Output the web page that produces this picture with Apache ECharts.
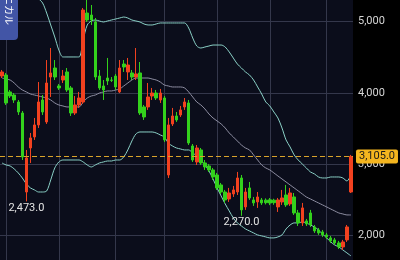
<!DOCTYPE html>
<html><head><meta charset="utf-8">
<script src="https://cdn.jsdelivr.net/npm/echarts@6/dist/echarts.min.js"></script>
<style>html,body{margin:0;padding:0;background:#000;}#c{width:400px;height:260px;}</style>
</head><body><div id="c"></div>
<script>
const opens = [4236,4250,4012,3969,3871,3716,2605,3224,3379,3548,
3899,3590,4222,4349,4096,4180,4293,4068,3716,3829,
3871,5122,5094,4996,4236,4096,4208,4180,4236,4012,
4405,4293,4279,4222,4279,3801,3801,3955,3997,3899,
3927,2844,3562,3674,3688,3801,3857,3252,3027,3196,
3013,2971,2915,2844,2704,2605,2507,2577,2605,2802,
2395,2662,2493,2465,2493,2490,2495,2490,2395,2465,
2563,2437,2535,2310,2170,2198,2310,2113,2071,2043,
2001,1959,1931,1888,1832,1931,2605];
const closes = [4293,3857,3955,3899,3730,3098,3084,3365,3548,3871,
3730,4138,4279,4222,4068,4236,4040,3716,3829,3927,
5164,5024,5024,4222,4068,4040,4166,4175,4082,4349,
4363,4391,4222,4265,3716,3660,3941,3997,3927,3997,
3337,3548,3674,3618,3759,3871,3294,3055,3224,3013,
2957,2915,2816,2662,2605,2493,2591,2634,2802,2353,
2605,2521,2451,2535,2451,2455,2450,2455,2493,2521,
2423,2591,2310,2170,2381,2156,2141,2057,2029,2001,
1973,1917,1888,1832,1902,2113,3105];
const lows = [4208,3829,3927,3857,3688,3055,2473,3013,3337,3505,
3688,3562,3941,4180,4040,4138,4012,3674,3688,3787,
3843,4996,4954,4180,4040,3899,4110,4152,4040,3997,
4293,4180,4180,4180,3688,3618,3759,3899,3899,3857,
3308,2802,3533,3590,3660,3759,3266,3027,2985,2985,
2915,2887,2774,2634,2577,2451,2465,2535,2563,2270,
2353,2493,2409,2381,2423,2430,2420,2425,2324,2423,
2395,2409,2282,2127,2127,2127,2113,2029,2001,1973,
1945,1888,1860,1804,1790,1902,2591];
const highs = [4321,4279,4040,3997,3899,3744,3196,3435,3646,4152,
3969,4461,4630,4461,4124,4321,4349,4096,3955,4012,
5193,5330,5235,5052,4321,4180,4490,4222,4265,4461,
4461,4490,4321,4630,4433,3829,4138,4068,4040,4054,
3955,3646,3787,3730,3815,3927,3899,3280,3266,3224,
3055,2999,2943,2873,2732,2634,2662,2690,2887,2844,
2662,2746,2535,2605,2521,2515,2520,2510,2521,2634,
2704,2662,2591,2353,2451,2226,2353,2141,2099,2071,
2029,1987,1959,1917,1931,2141,3126];
const upperBand = [5420,5400,5380,5370,5360,5350,5345,5340,5335,5320,
5263,5122,4954,4785,4602,4504,4504,4504,4504,4504,
4743,4954,5010,5024,5010,4996,5010,5024,5038,5052,
5066,5052,5024,5010,4996,4968,4954,4954,4968,4982,
4982,4982,4982,4982,4982,4982,4911,4771,4658,4630,
4644,4658,4672,4672,4672,4644,4574,4489,4405,4349,
4293,4250,4180,4082,3983,3871,3815,3730,3646,3505,
3337,3238,3126,3055,2999,2943,2887,2859,2816,2802,
2802,2816,2816,2816,2802,2760,2845];
const midBand = [4208,4194,4180,4138,4082,4040,4012,3983,3969,3955,
3941,3927,3899,3857,3829,3815,3801,3801,3801,3801,
3871,3927,3955,3969,3997,4012,4026,4026,4040,4054,
4096,4138,4180,4208,4208,4208,4208,4194,4180,4152,
4110,4096,4082,4082,4082,4068,4012,3941,3871,3829,
3773,3702,3646,3604,3562,3505,3435,3379,3322,3266,
3224,3196,3126,3055,2985,2943,2915,2873,2830,2788,
2746,2704,2662,2620,2577,2535,2507,2479,2451,2423,
2395,2366,2338,2310,2296,2282,2282];
const lowerBand = [3013,2985,2971,2929,2873,2802,2718,2662,2634,2605,
2605,2619,2774,2943,3027,3055,3055,3055,3055,3055,
3027,2985,2957,2985,3013,3027,3041,3041,3055,3055,
3098,3196,3322,3421,3449,3449,3449,3449,3435,3407,
3379,3294,3252,3224,3210,3196,3196,3154,3112,3055,
2985,2901,2788,2662,2549,2437,2338,2240,2170,2127,
2085,2057,2029,2001,1987,1973,1959,1959,1973,2001,
2085,2141,2170,2170,2184,2170,2141,2113,2071,2015,
1959,1902,1860,1832,1790,1748,1706];
const yTicks = [1000, 2000, 3000, 4000, 5000, 6000];
const gridLineIdx = [1, 14, 28, 40, 53, 66, 80];
const markIdx = [6, 59];
const markVal = [2473, 2270];
const lastPrice = 3105;
const tabText = 'テクニカル';

const categories = opens.map((_, i) => 'D' + (i + 1));
const candleData = opens.map((o, i) => [o, closes[i], lows[i], highs[i]]);
const fmt1 = v => v.toLocaleString('en-US', {minimumFractionDigits: 1, maximumFractionDigits: 1});

const chart = echarts.init(document.getElementById('c'), null, {renderer: 'canvas'});
const bandLine = (name, data, color) => ({
  name, type: 'line', data, showSymbol: false, smooth: 0.3, silent: true,
  lineStyle: {color, width: 1}, z: 2
});
chart.setOption({
  animation: false,
  backgroundColor: '#000',
  grid: {left: 0, right: 47, top: -49.4, bottom: -46.1, show: true, backgroundColor: '#0b0d1b', borderWidth: 0,
    containLabel: false, outerBoundsMode: 'none'},
  xAxis: {
    type: 'category', data: categories, boundaryGap: true,
    axisLine: {show: false}, axisTick: {show: false}, axisLabel: {show: false},
    splitLine: {show: true, alignWithLabel: true, interval: (i) => gridLineIdx.includes(i),
      lineStyle: {color: '#34374b', width: 1}}
  },
  yAxis: {
    type: 'value', position: 'right', min: yTicks[0], max: yTicks[yTicks.length - 1], interval: 1000,
    axisLine: {show: false}, axisTick: {show: false},
    axisLabel: {color: '#d6d6d6', fontSize: 11, fontFamily: 'Roboto', margin: 5,
      formatter: v => v.toLocaleString('en-US')},
    splitLine: {show: true, lineStyle: {color: '#34374b', width: 1}}
  },
  series: [
    bandLine('upper', upperBand, '#8ad0c6'),
    bandLine('mid', midBand, '#8e8ea2'),
    bandLine('lower', lowerBand, '#8ad0c6'),
    {
      name: 'price', type: 'candlestick', data: candleData, barWidth: 3, z: 3,
      itemStyle: {color: '#f2411f', color0: '#33d11c', borderColor: '#f2411f', borderColor0: '#33d11c', borderWidth: 1},
      markPoint: {
        symbol: 'circle', symbolSize: 0, silent: true,
        label: {show: true, position: 'bottom', distance: 1, color: '#e4e4e4', fontSize: 11, fontFamily: 'Roboto',
          formatter: p => fmt1(p.value)},
        data: markIdx.map((ix, k) => ({coord: [ix, markVal[k]], value: markVal[k]}))
      },
      markLine: {
        symbol: 'none', silent: true,
        lineStyle: {color: '#d9a32b', type: [5, 3], width: 1},
        label: {show: true, position: 'end', formatter: fmt1(lastPrice), backgroundColor: '#f4b51f',
          color: '#1a1a1a', padding: [2, 3, 1, 3], borderRadius: 2, fontSize: 11, fontFamily: 'Roboto', distance: 3},
        data: [{yAxis: lastPrice}]
      }
    }
  ],
  graphic: [
    {type: 'rect', shape: {x: 0, y: -6, width: 18, height: 46, r: [0, 0, 4, 0]}, style: {fill: '#4255a6'}, z: 100},
    {type: 'text', x: 9, y: 25, rotation: -Math.PI / 2, z: 101,
      style: {text: tabText, fill: '#ffffff', font: '10px "Noto Sans CJK JP"', textAlign: 'right', textVerticalAlign: 'middle'}}
  ]
});
</script></body></html>
